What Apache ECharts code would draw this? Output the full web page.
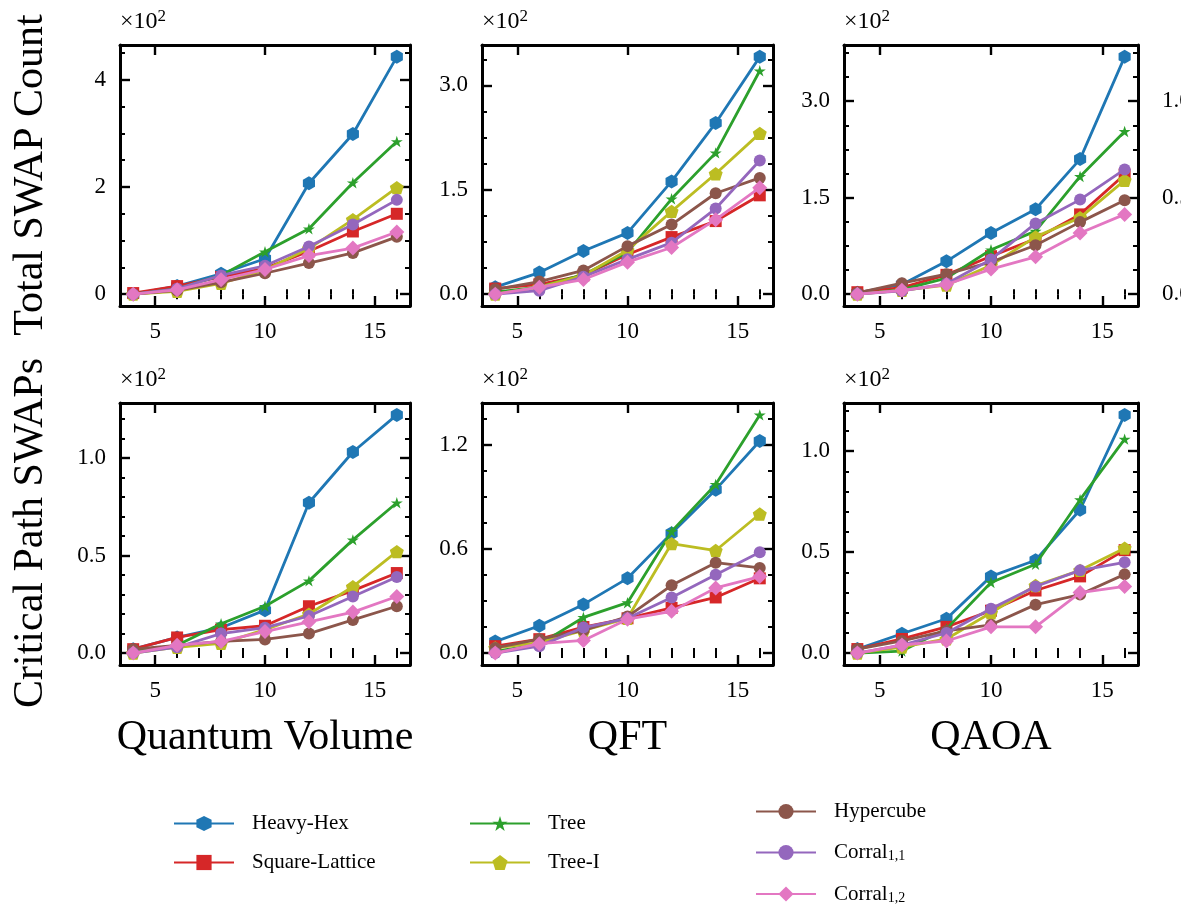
<!DOCTYPE html>
<html><head><meta charset="utf-8">
<script src="https://cdn.jsdelivr.net/npm/echarts@6/dist/echarts.min.js"></script>
<style>html,body{margin:0;padding:0;background:#fff}#c{width:1181px;height:909px}</style>
</head><body><div id="c"></div>
<script>
// ---------------- DATA ----------------
const qubits = [4, 6, 8, 10, 12, 14, 16];
const topologies = ['Heavy-Hex', 'Square-Lattice', 'Tree', 'Tree-I', 'Hypercube', 'Corral_{1,1}', 'Corral_{1,2}'];
const columnTitles = ['Quantum Volume', 'QFT', 'QAOA'];
const rowTitles = ['Total SWAP Count', 'Critical Path SWAPs'];

// values in SWAPs (axis shows ×10^2), order follows `topologies`
const qvTotal = [
  [0, 15, 38, 66, 207, 299, 443],
  [2, 15, 32, 48, 80, 117, 150],
  [0, 10, 35, 79, 122, 208, 285],
  [0, 5, 20, 45, 85, 139, 199],
  [0, 7, 22, 39, 58, 77, 107],
  [0, 10, 35, 53, 89, 130, 176],
  [0, 8, 27, 46, 72, 86, 116]
];
const qftTotal = [
  [10, 31, 62, 88, 162, 246, 341],
  [8, 14, 27, 57, 82, 105, 142],
  [3, 10, 28, 60, 137, 203, 321],
  [0, 10, 27, 63, 119, 173, 231],
  [7, 18, 34, 69, 100, 145, 167],
  [0, 5, 25, 50, 74, 123, 192],
  [0, 10, 21, 46, 67, 107, 153]
];
const qaoaTotal = [
  [2, 15, 51, 95, 132, 210, 369],
  [3, 10, 30, 59, 86, 124, 186],
  [0, 7, 25, 69, 98, 183, 253],
  [0, 6, 14, 45, 89, 119, 177],
  [2, 17, 31, 50, 76, 112, 146],
  [0, 5, 16, 54, 110, 147, 194],
  [0, 6, 15, 39, 58, 95, 124]
];
const qvCritical = [
  [2, 8, 13, 22, 77, 103, 122],
  [2, 8, 12, 14, 24, 32, 41],
  [1, 4, 15, 24, 37, 58, 77],
  [0, 3, 5, 12, 20, 34, 52],
  [2, 4, 6, 7, 10, 17, 24],
  [0, 3, 10, 13, 19, 29, 39],
  [0, 4, 6, 11, 16, 21, 29]
];
const qftCritical = [
  [6.6, 15.7, 28, 43, 69, 94, 122],
  [4, 8, 15, 20, 26, 32, 43],
  [1, 5, 20.5, 29, 70, 97, 137],
  [3, 6, 13, 20, 63, 59, 80],
  [3, 8, 13, 21, 39, 52, 49],
  [0, 4, 14.7, 20, 32, 45, 58],
  [0, 5.4, 7.3, 19.5, 24, 37.5, 44]
];
const qaoaCritical = [
  [2, 9.6, 17, 38, 46, 71, 118],
  [2, 7, 13, 21, 31, 38, 51],
  [0, 1, 12, 35, 44, 76, 106],
  [0, 3, 7, 20, 33.5, 41, 52],
  [2, 6, 11, 14, 24, 29, 39],
  [0, 4, 10, 22, 33, 41, 45],
  [0, 4, 6, 13, 13, 30, 33]
];

const xMajorTicks = [5, 10, 15];
const xMinorTicks = [4, 6, 7, 8, 9, 11, 12, 13, 14, 16];
const yMajorTicks = [[0, 200, 400], [0, 150, 300], [0, 150, 300], [0, 50, 100], [0, 60, 120], [0, 50, 100]];
const yMinorSteps = [50, 37.5, 37.5, 10, 15, 10];
const yLabelDecimals = [0, 1, 1, 1, 1, 1];
const twinTickValues = [0, 0.5, 1.0];

// ---------------- STYLE / LAYOUT ----------------
const FONT = 'Liberation Serif';
const colors = ['#1f77b4', '#d62728', '#2ca02c', '#bcbd22', '#8c564b', '#9467bd', '#e377c2'];
const HEX = 'path://M0,-1L0.866,-0.5L0.866,0.5L0,1L-0.866,0.5L-0.866,-0.5Z';
const PENT = 'path://M0,-1L0.951,-0.309L0.588,0.809L-0.588,0.809L-0.951,-0.309Z';
const STAR = 'path://M0,-1L0.2245,-0.309L0.951,-0.309L0.363,0.118L0.588,0.809L0,0.382L-0.588,0.809L-0.363,0.118L-0.951,-0.309L-0.2245,-0.309Z';
const symbols = [HEX, 'rect', STAR, PENT, 'circle', 'circle', 'diamond'];
const symbolSizes = [14, 12, 12, 14, 12, 12, 15];
const gridRects = [[120, 45, 290, 261], [482, 45, 291, 261], [844, 45, 294, 261],
                   [120, 403, 290, 262], [482, 403, 291, 262], [844, 403, 294, 262]];
const panels = [qvTotal, qftTotal, qaoaTotal, qvCritical, qftCritical, qaoaCritical];

const xLo = Math.min(...qubits), xHi = Math.max(...qubits);
const X_MIN = xLo - 0.05 * (xHi - xLo), X_MAX = xHi + 0.05 * (xHi - xLo);

const grids = [], xAxes = [], yAxes = [], series = [];
const lineAxis = { show: true, onZero: false, lineStyle: { color: '#000', width: 3 } };
const majorTick = (vals) => ({ show: true, inside: true, length: 10, lineStyle: { color: '#000', width: 2.4 }, customValues: vals });
const minorTick = (vals) => ({ show: true, inside: true, length: 5, lineStyle: { color: '#000', width: 2 }, customValues: vals });
const noLabel = { show: false };
const labelBase = { color: '#000', fontSize: 23, fontFamily: FONT };

panels.forEach((pd, gi) => {
  const r = gridRects[gi];
  grids.push({ left: r[0], top: r[1], width: r[2], height: r[3], containLabel: false, outerBoundsMode: 'none' });
  const flat = pd.flat();
  const lo = Math.min(...flat), hi = Math.max(...flat);
  const pad = 0.05 * (hi - lo);
  const yMin = lo - pad, yMax = hi + pad;
  const step = yMinorSteps[gi];
  const yMinor = [];
  for (let k = Math.ceil(yMin / step); k * step <= yMax; k++) {
    const v = k * step;
    if (!yMajorTicks[gi].some(m => Math.abs(m - v) < 1e-9)) yMinor.push(v);
  }
  const xb = { type: 'value', gridIndex: gi, min: X_MIN, max: X_MAX, splitLine: { show: false } };
  xAxes.push(
    { ...xb, position: 'bottom', axisLine: lineAxis, axisTick: majorTick(xMajorTicks),
      axisLabel: { ...labelBase, show: true, margin: 14, customValues: xMajorTicks, formatter: v => String(v) } },
    { ...xb, position: 'bottom', axisLine: { show: false }, axisTick: minorTick(xMinorTicks), axisLabel: noLabel },
    { ...xb, position: 'top', axisLine: lineAxis, axisTick: majorTick(xMajorTicks), axisLabel: noLabel },
    { ...xb, position: 'top', axisLine: { show: false }, axisTick: minorTick(xMinorTicks), axisLabel: noLabel }
  );
  const yb = { type: 'value', gridIndex: gi, min: yMin, max: yMax, splitLine: { show: false } };
  const dec = yLabelDecimals[gi];
  yAxes.push(
    { ...yb, position: 'left', axisLine: lineAxis, axisTick: majorTick(yMajorTicks[gi]),
      axisLabel: { ...labelBase, show: true, margin: 14, customValues: yMajorTicks[gi], formatter: v => (v / 100).toFixed(dec) },
      name: '{a|×10}{b|2}', nameLocation: 'end', nameGap: 9,
      nameTextStyle: { align: 'left', verticalAlign: 'bottom', color: '#000', fontFamily: FONT,
        rich: { a: { fontSize: 24, lineHeight: 28, fontFamily: FONT, color: '#000' },
                b: { fontSize: 17, lineHeight: 17, verticalAlign: 'top', fontFamily: FONT, color: '#000' } } } },
    { ...yb, position: 'left', axisLine: { show: false }, axisTick: minorTick(yMinor), axisLabel: noLabel },
    { ...yb, position: 'right', axisLine: lineAxis, axisTick: majorTick(yMajorTicks[gi]), axisLabel: noLabel },
    { ...yb, position: 'right', axisLine: { show: false }, axisTick: minorTick(yMinor), axisLabel: noLabel }
  );
  pd.forEach((vals, si) => {
    series.push({
      type: 'line', name: topologies[si], xAxisIndex: gi * 4, yAxisIndex: gi * 4,
      data: qubits.map((q, i) => [q, vals[i]]),
      symbol: symbols[si], symbolSize: symbolSizes[si], symbolKeepAspect: true, showSymbol: true,
      itemStyle: { color: colors[si] }, lineStyle: { color: colors[si], width: 2.8 },
      emphasis: { disabled: true }, animation: false, z: 2 + si * 0.01
    });
  });
});

// partially visible twin axis on the right of the top-right panel
(() => {
  const src = yAxes[2 * 4];
  const scale = yMajorTicks[2][2];
  yAxes.push({ type: 'value', gridIndex: 2, position: 'right', min: src.min / scale, max: src.max / scale,
    splitLine: { show: false }, axisLine: { show: false }, axisTick: { show: false },
    axisLabel: { ...labelBase, show: true, margin: 24, customValues: twinTickValues, formatter: v => v.toFixed(1) } });
})();

const legendRich = {
  m: { fontSize: 21, lineHeight: 22, fontFamily: FONT, color: '#000' },
  s: { fontSize: 14, lineHeight: 12, verticalAlign: 'bottom', fontFamily: FONT, color: '#000' }
};
const legendFmt = name => {
  const m = name.match(/^(.*)_\{(.*)\}$/);
  return m ? '{m|' + m[1] + '}{s|' + m[2] + '}' : '{m|' + name + '}';
};
const legendBase = {
  orient: 'vertical', itemWidth: 60, itemHeight: 19, selectedMode: false, formatter: legendFmt, padding: 0,
  textStyle: { fontSize: 21, fontFamily: FONT, color: '#000', padding: [0, 0, 0, 13], rich: legendRich }
};

const graphic = [
  ...rowTitles.map((t, i) => ({ type: 'text', x: 31, y: [175, 533][i], rotation: Math.PI / 2,
    style: { text: t, font: '42px "Liberation Serif"', fill: '#000', align: 'center', verticalAlign: 'middle' } })),
  ...columnTitles.map((t, i) => ({ type: 'text', x: gridRects[3 + i][0] + gridRects[3 + i][2] / 2, y: 738,
    style: { text: t, font: '42px "Liberation Serif"', fill: '#000', align: 'center', verticalAlign: 'middle' } }))
];

const option = {
  backgroundColor: '#fff',
  animation: false,
  grid: grids, xAxis: xAxes, yAxis: yAxes, series: series,
  legend: [
    { ...legendBase, data: topologies.slice(0, 2), left: 173, top: 813, itemGap: 18 },
    { ...legendBase, data: topologies.slice(2, 4), left: 469, top: 813, itemGap: 18 },
    { ...legendBase, data: topologies.slice(4, 7), left: 755, top: 801, itemGap: 20 }
  ],
  graphic: graphic
};
const chart = echarts.init(document.getElementById('c'), null, { renderer: 'canvas', width: 1181, height: 909 });
chart.setOption(option);
</script>
</body></html>
